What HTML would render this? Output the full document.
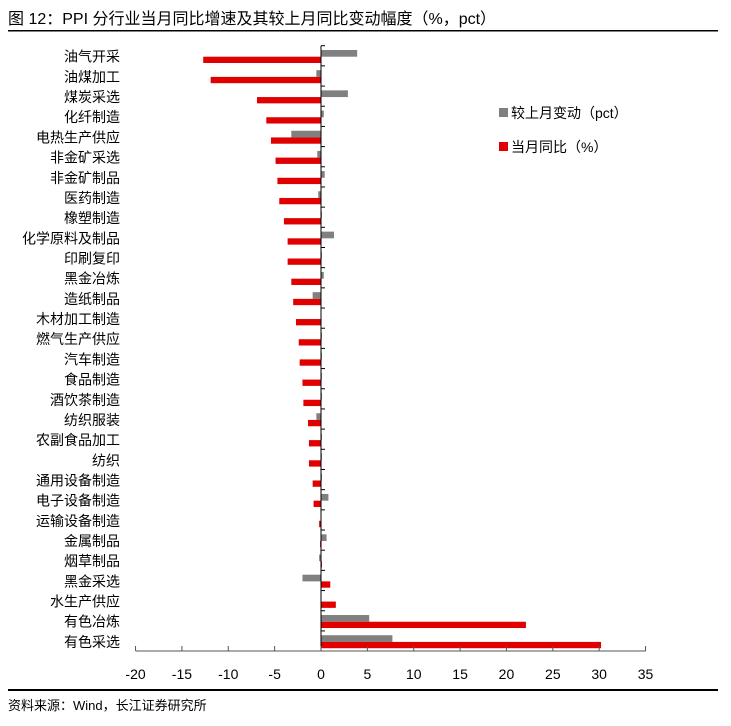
<!DOCTYPE html>
<html><head><meta charset="utf-8"><style>
body{margin:0;background:#fff;}
svg text{font-family:"Liberation Sans","Noto Sans CJK SC",sans-serif;}
</style></head><body>
<svg width="731" height="721" xmlns="http://www.w3.org/2000/svg">
<text x="8" y="24" font-size="16" fill="#000">图 12：PPI 分行业当月同比增速及其较上月同比变动幅度（%，pct）</text>
<rect x="8" y="30" width="710" height="1.5" fill="#000"/>
<g id="c"></g>
<line x1="321" y1="45.7" x2="321" y2="651" stroke="#000" stroke-width="1"/>
<line x1="135.7" y1="651" x2="645.7" y2="651" stroke="#555" stroke-width="1"/>
<g font-size="14" fill="#000" text-anchor="middle" id="xt"></g>
<rect x="8" y="689" width="710" height="2" fill="#000"/>
<text x="8" y="710" font-size="13" fill="#000">资料来源：Wind，长江证券研究所</text>
<rect x="499" y="108" width="9" height="9" fill="#808080"/>
<text x="511" y="118" font-size="14">较上月变动（pct）</text>
<rect x="499" y="142" width="9" height="9" fill="#e00000"/>
<text x="511" y="152" font-size="14">当月同比（%）</text>
</svg>
<script>
var cats=["油气开采","油煤加工","煤炭采选","化纤制造","电热生产供应","非金矿采选","非金矿制品","医药制造","橡塑制造","化学原料及制品","印刷复印","黑金冶炼","造纸制品","木材加工制造","燃气生产供应","汽车制造","食品制造","酒饮茶制造","纺织服装","农副食品加工","纺织","通用设备制造","电子设备制造","运输设备制造","金属制品","烟草制品","黑金采选","水生产供应","有色冶炼","有色采选"];
var red=[-12.7,-11.9,-6.9,-5.9,-5.4,-4.9,-4.7,-4.5,-4.0,-3.6,-3.6,-3.2,-3.0,-2.7,-2.4,-2.3,-2.0,-1.9,-1.4,-1.3,-1.3,-0.9,-0.8,-0.2,-0.1,0.1,1.0,1.6,22.1,30.2];
var gray=[3.9,-0.5,2.9,0.3,-3.2,-0.4,0.4,-0.3,0.1,1.4,0.1,0.3,-0.9,0.05,0.1,0.1,0.1,0.1,-0.5,0.1,0.1,0.1,0.8,0.05,0.6,-0.2,-2.0,0.05,5.2,7.7];
var z=321,u=9.273,sp=20.18,t0=45.7,s='';
function bar(v,y,h,c){var x1=z+Math.min(0,v)*u,w=Math.abs(v)*u;return '<rect x="'+x1+'" y="'+y+'" width="'+w+'" height="'+h+'" fill="'+c+'"/>';}
for(var i=0;i<30;i++){var t=t0+sp*i;
s+=bar(gray[i],t+4.3,6.7,'#808080');s+=bar(red[i],t+11,6.3,'#e00000');
s+='<text x="120" y="'+(t+16)+'" font-size="14" text-anchor="end">'+cats[i]+'</text>';
s+='<line x1="321" y1="'+t+'" x2="325" y2="'+t+'" stroke="#000"/>';}
document.getElementById('c').innerHTML=s;
var xs='';for(var v=-20;v<=35;v+=5){var x=z+v*u;xs+='<line x1="'+x+'" y1="646" x2="'+x+'" y2="651" stroke="#555"/><text x="'+x+'" y="679">'+v+'</text>';}
document.getElementById('xt').innerHTML=xs;
</script>
</body></html>
